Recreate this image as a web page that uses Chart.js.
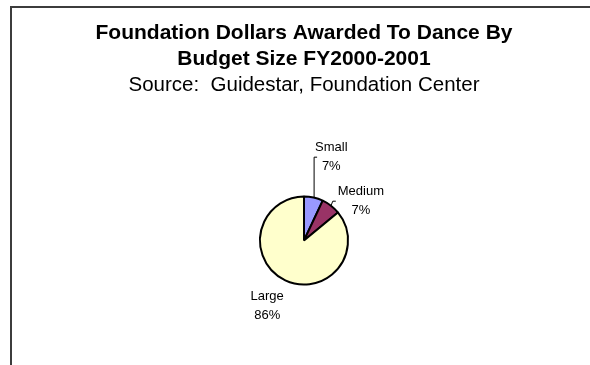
<!DOCTYPE html>
<html>
<head>
<meta charset="utf-8">
<script src="https://cdn.jsdelivr.net/npm/chart.js@4/dist/chart.umd.min.js"></script>
<style>
  html, body { margin: 0; padding: 0; background: #fff; overflow: hidden; }
  #wrap { position: relative; width: 590px; height: 365px; }
  #frame { position: absolute; left: 10px; top: 6px; width: 700px; height: 500px;
           border-left: 2px solid #3c3c3c; border-top: 2px solid #3c3c3c; box-sizing: border-box; }
  canvas { position: absolute; left: 0; top: 0; }
</style>
</head>
<body>
<div id="wrap">
  <div id="frame"></div>
  <canvas id="chart" width="590" height="365"></canvas>
</div>
<script>
// Share of foundation dollars by organisation budget size
const categories = ['Small', 'Medium', 'Large'];
const shares = [7, 7, 86];
const sliceColors = ['#9999FF', '#993366', '#FFFFCC'];

const FONT = "'Liberation Sans', Arial, sans-serif";

// label nudges (px) from a point just outside each slice's mid-angle
const labelNudge = [[12, -15], [14, 16], [-7, 2]];
// which labels get a leader line back to their slice
const useLeader = [true, true, false];

const sliceLabels = {
  id: 'sliceLabels',
  afterDatasetsDraw(chart) {
    const ctx = chart.ctx;
    const meta = chart.getDatasetMeta(0);
    const total = shares.reduce((a, b) => a + b, 0);
    ctx.save();
    ctx.font = '13px ' + FONT;
    ctx.fillStyle = '#000';
    ctx.textAlign = 'center';
    ctx.textBaseline = 'middle';
    const lh = 19;
    meta.data.forEach((arc, i) => {
      const p = arc.getProps(['x', 'y', 'startAngle', 'endAngle', 'outerRadius'], true);
      const mid = (p.startAngle + p.endAngle) / 2;
      const r = p.outerRadius + 26;
      const cx = p.x + Math.cos(mid) * r + labelNudge[i][0];
      const cy = p.y + Math.sin(mid) * r + labelNudge[i][1];
      const pct = Math.round(shares[i] / total * 100) + '%';
      ctx.fillText(categories[i], cx, cy - lh / 2);
      ctx.fillText(pct, cx, cy + lh / 2);
      if (useLeader[i]) {
        const w = Math.max(ctx.measureText(categories[i]).width, ctx.measureText(pct).width);
        const ex = p.x + Math.cos(mid) * p.outerRadius;
        const ey = p.y + Math.sin(mid) * p.outerRadius;
        const lx = cx - w / 2 - 2;
        ctx.beginPath();
        ctx.strokeStyle = '#000';
        ctx.lineWidth = 1;
        if (lx - ex > 4) {
          ctx.moveTo(ex, ey);
          ctx.lineTo(lx - 3, cy);
          ctx.lineTo(lx, cy);
        } else {
          ctx.moveTo(ex + 0.5, ey);
          ctx.lineTo(ex + 0.5, cy);
          ctx.lineTo(ex + 3.5, cy);
        }
        ctx.stroke();
      }
    });
    ctx.restore();
  }
};

new Chart(document.getElementById('chart'), {
  type: 'pie',
  data: {
    labels: categories,
    datasets: [{
      data: shares,
      backgroundColor: sliceColors,
      borderColor: '#000',
      borderWidth: 2
    }]
  },
  options: {
    responsive: false,
    animation: false,
    radius: 44,
    layout: { padding: { left: 18, right: 0, top: 0, bottom: 79 } },
    plugins: {
      legend: { display: false },
      tooltip: { enabled: false },
      title: {
        display: true,
        text: ['Foundation Dollars Awarded To Dance By', 'Budget Size FY2000-2001'],
        color: '#000',
        font: { family: FONT, size: 21, weight: 'bold', lineHeight: '26px' },
        padding: { top: 20, bottom: 0 }
      },
      subtitle: {
        display: true,
        text: 'Source:  Guidestar, Foundation Center',
        color: '#000',
        font: { family: FONT, size: 20.5, weight: 'normal', lineHeight: '26px' },
        padding: { top: 0, bottom: 97 }
      }
    }
  },
  plugins: [sliceLabels]
});
</script>
</body>
</html>
